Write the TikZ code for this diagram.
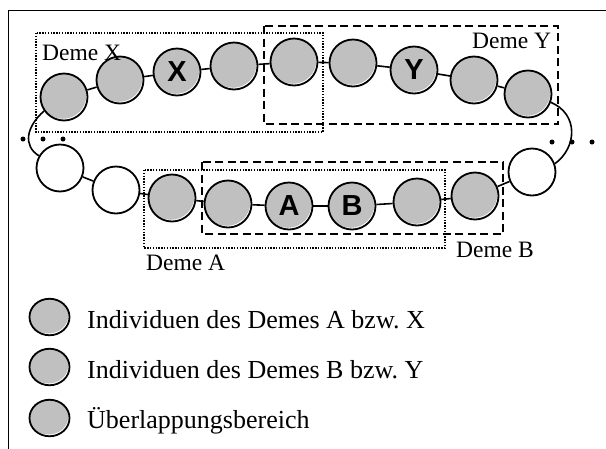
\documentclass[tikz,border=0pt]{standalone}
\usepackage{fontspec}
\setmainfont{Liberation Serif}
\newfontfamily\labelsans{Liberation Sans}
\usetikzlibrary{shapes.geometric}
\definecolor{cellgrey}{HTML}{C0C0C0}

\begin{document}
\frenchspacing
\begin{tikzpicture}[x=1pt,y=-1pt,
  cell/.style={circle,draw,line width=1.8pt,minimum size=47pt,inner sep=0pt},
  shade/.style={path picture={\fill[cellgrey]
      ([xshift=-1.2pt,yshift=1.7pt]path picture bounding box.center)
      ellipse ({#1});}},
  filled/.style={cell,fill=white,shade={23.5pt and 23.5pt}},
  empty/.style={cell,fill=white},
  keycell/.style={ellipse,draw,line width=1.8pt,fill=white,inner sep=0pt,
      minimum width=40pt,minimum height=36.5pt,shade={20pt and 18.2pt}},
  link/.style={line width=1.6pt},
  dotbox/.style={dash pattern=on 1.4pt off 1.4pt,line width=1.4pt},
  dashbox/.style={dash pattern=on 8pt off 4.5pt,line width=1.7pt},
  tag/.style={font=\fontsize{23.5}{26}\selectfont,anchor=base west,inner sep=0pt},
  letter/.style={font=\labelsans\bfseries\fontsize{29}{30}\selectfont},
  keytext/.style={font=\fontsize{26}{28}\selectfont,anchor=base west,inner sep=0pt},
  dot/.style={circle,fill,inner sep=0pt,minimum size=5pt}
]
\useasboundingbox (0,0) rectangle (606,448);

% outer frame (runs off the right and bottom edges)
\draw[line width=1.8pt] (8.5,470) -- (8.5,10.5) -- (640,10.5);

% upper chain
\node[filled] (c1) at (64,97) {};
\node[filled] (c2) at (120,80) {};
\node[filled,letter] (c3) at (177,72) {X};
\node[filled] (c4) at (234,66) {};
\node[filled] (c5) at (294,62) {};
\node[filled] (c6) at (353,63) {};
\node[filled,letter] (c7) at (414,70) {Y};
\node[filled] (c8) at (474,80) {};
\node[filled] (c9) at (528,94) {};

% lower chain
\node[empty] (r1) at (532,172) {};
\node[filled] (b6) at (475,196) {};
\node[filled] (b5) at (417,202) {};
\node[filled,letter] (b4) at (352,206) {B};
\node[filled,letter] (b3) at (289,206) {A};
\node[filled] (b2) at (228,204) {};
\node[filled] (b1) at (172,198) {};
\node[empty] (w2) at (116,190) {};
\node[empty] (w1) at (60,168) {};

% links between neighbours
\foreach \a/\b in {c1/c2,c2/c3,c3/c4,c4/c5,c5/c6,c6/c7,c7/c8,c8/c9,
                   r1/b6,b6/b5,b5/b4,b4/b3,b3/b2,b2/b1,b1/w2,w2/w1}
  \draw[link] (\a) -- (\b);

% wrap-around links
\draw[link] (c1.215) .. controls +(-18,16) and +(-16,-10) .. (w1.150);
\draw[link] (c9.340) .. controls +(28,12) and +(22,-16) .. (r1.20);

% ellipsis dots
\node[dot] (l1) at (23,139) {};
\node[dot] (l2) at (43,139) {};
\node[dot] (l3) at (63,139) {};
\node[dot] (q1) at (552,142) {};
\node[dot] (q2) at (572,142) {};
\node[dot] (q3) at (592,142) {};

% deme boundaries
\draw[dotbox] (36,33) rectangle (323,132);
\draw[dashbox] (264,26) rectangle (558,124);
\draw[dotbox] (144,170) rectangle (445,248);
\draw[dashbox] (202,162) rectangle (503,234);

\node[tag] (tx) at (42,60) {Deme X};
\node[tag] (ty) at (472,48) {Deme Y};
\node[tag] (ta) at (146,270) {Deme A};
\node[tag] (tb) at (456,257) {Deme B};

% legend
\node[keycell] (k1) at (49.5,317) {};
\node[keycell] (k2) at (49.5,367) {};
\node[keycell] (k3) at (49.5,418) {};
\node[keytext] (kt1) at (87,328) {Individuen des Demes A bzw. X};
\node[keytext] (kt2) at (87,378) {Individuen des Demes B bzw. Y};
\node[keytext] (kt3) at (87,428) {Überlappungsbereich};
\end{tikzpicture}
\end{document}
